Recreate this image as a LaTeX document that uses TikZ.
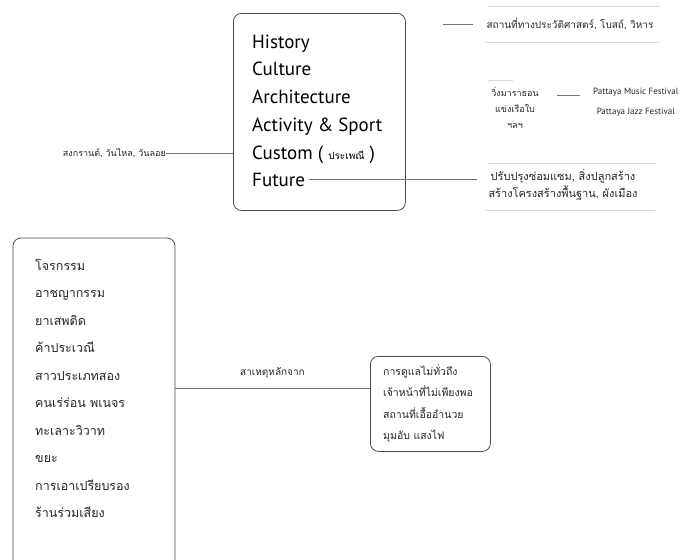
\documentclass[tikz,border=0pt]{standalone}
\usepackage{fontspec}
\setmainfont{PT Sans}
\newfontfamily\thai[Script=Thai]{Loma}
\tikzset{
  frame/.style={draw=black!70, line width=0.8pt, rounded corners=8pt},
  conn/.style={draw=black!55, line width=0.6pt},
  faint/.style={draw=black!15, line width=0.5pt},
  item/.style={anchor=base west, inner sep=0pt, font=\fontsize{19}{22}\selectfont, text=black},
  crime/.style={anchor=base west, inner sep=0pt, font=\thai\fontsize{12.5}{15}\selectfont, text=black!85},
  small/.style={inner sep=0pt, font=\thai\fontsize{10}{17}\selectfont, text=black!85, align=center},
}
\begin{document}
\begin{tikzpicture}[x=1pt,y=-1pt]
\useasboundingbox[fill=white] (0,0) rectangle (697,560);
% main box
\node[frame, anchor=north west, minimum width=172pt, minimum height=197pt] (main) at (233,13) {};
\node[item] (hist) at (252,48) {History};
\node[item] (cult) at (252,75) {Culture};
\node[item] (arch) at (252,103) {Architecture};
\node[item] (acts) at (252,131) {Activity \& Sport};
\node[item] (cust) at (252,159) {Custom ( {\thai\fontsize{10}{12}\selectfont ประเพณี} )};
\node[item] (fut) at (252,186) {Future};
% left label
\node[small, anchor=east, font=\thai\fontsize{9}{12}\selectfont] (tradi) at (166,153) {สงกรานต์, วันไหล, วันลอย};
\draw[conn] (tradi.east) -- (tradi.east -| main.west);
% top right
\coordinate (h1) at (443,24);
\coordinate (h2) at (473,24);
\draw[conn] (h1) -- (h2);
\node[small] (histt) at (570,24) {สถานที่ทางประวัติศาสตร์, โบสถ์, วิหาร};
\draw[faint] (488,6) -- (660,6);
\draw[faint] (485,42) -- (660,42);
% activity
\node[small, font=\thai\fontsize{9}{16}\selectfont] (actt) at (515,108) {วิ่งมาราธอน\\แข่งเรือใบ\\ฯลฯ};
\draw[faint] (488,80) -- (513,80);
\node[inner sep=0pt, align=center, font=\fontsize{9}{20}\selectfont, text=black!85, anchor=west] (pat) at (593,102) {Pattaya Music Festival\\Pattaya Jazz Festival};
\coordinate (d1) at (557,95);
\coordinate (d2) at (580,95);
\draw[conn] (d1) -- (d2);
% future
\node[small, font=\thai\fontsize{11}{17}\selectfont] (futt) at (563,185) {ปรับปรุงซ่อมแซม, สิ่งปลูกสร้าง\\สร้างโครงสร้างพื้นฐาน, ผังเมือง};
\coordinate (f2) at (477,181);
\draw[conn] ([xshift=4pt]fut.east) -- (fut.east -| f2);
\draw[faint] (488,163) -- (655,163);
\draw[faint] (485,210) -- (655,210);
% bottom left list
\draw[frame] (13,565) -- (13,238) -- (175,238) -- (175,565);
\coordinate (crimeR) at (175,388);
\foreach \t [count=\i from 0] in {โจรกรรม,อาชญากรรม,ยาเสพติด,ค้าประเวณี,สาวประเภทสอง,คนเร่ร่อน พเนจร,ทะเลาะวิวาท,ขยะ,การเอาเปรียบรอง,ร้านร่วมเสียง}
  \node[crime] (c\i) at (35,{270+27.5*\i}) {\t};
% cause box
\node[frame, anchor=north west, minimum width=120pt, minimum height=95pt] (cause) at (370,356) {};
\node[small, anchor=north west, align=left, font=\thai\fontsize{10.5}{21.5}\selectfont] (causet) at (383,364) {การดูแลไม่ทั่วถึง\\เจ้าหน้าที่ไม่เพียงพอ\\สถานที่เอื้ออำนวย\\มุมอับ แสงไฟ};
\draw[conn] (crimeR) -- (crimeR -| cause.west) node[midway, above=6pt, font=\thai\fontsize{10}{12}\selectfont, text=black!85] (lbl) {สาเหตุหลักจาก};
\end{tikzpicture}
\end{document}
